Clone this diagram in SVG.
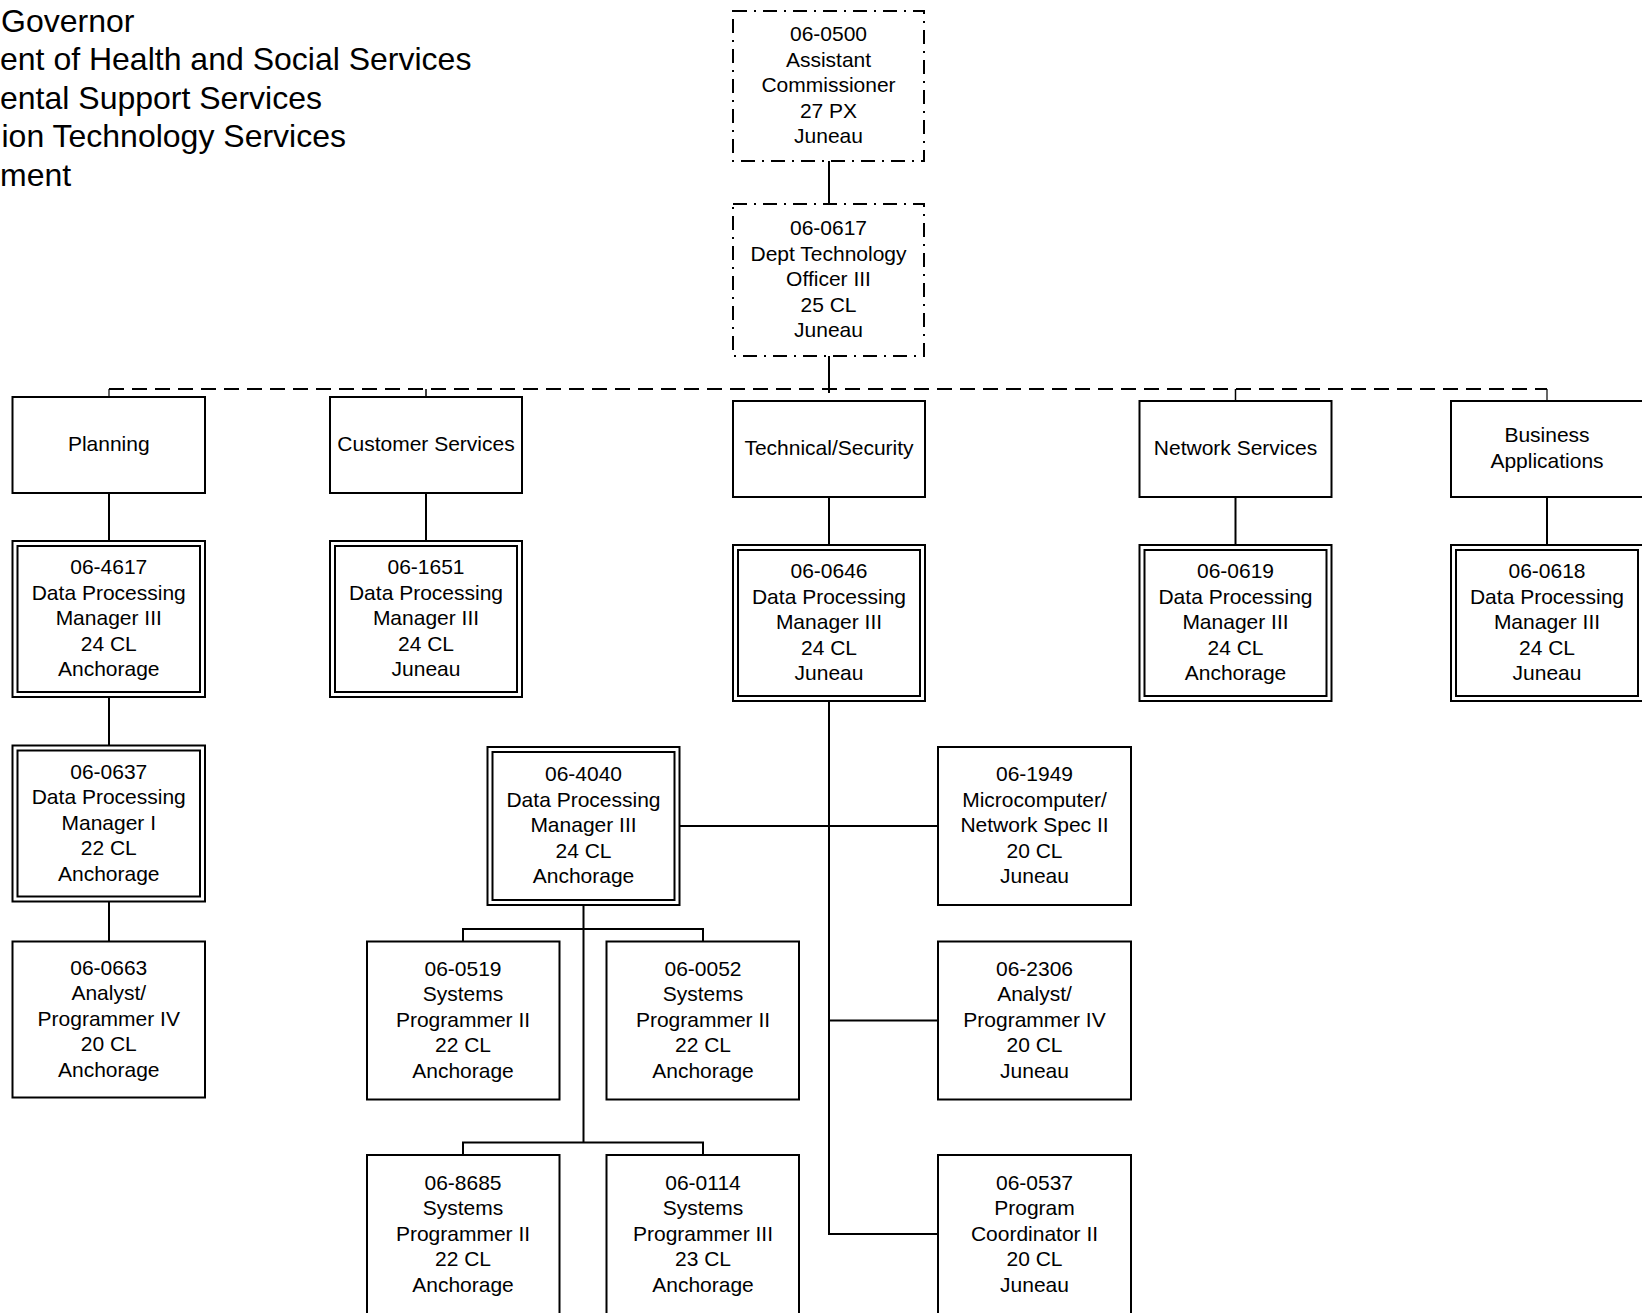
<svg xmlns="http://www.w3.org/2000/svg" width="1642" height="1313" viewBox="0 0 1642 1313">
<style>
.bg{fill:#fff}
.box{fill:#fff;stroke:#000;stroke-width:2}
.dd{stroke-dasharray:14 7 2 7}
.c{fill:none;stroke:#000;stroke-width:2}
.dash{stroke-dasharray:15 8}
.t{font-family:"Liberation Sans",Arial,sans-serif;font-size:21px;text-anchor:middle;fill:#000}
.h{font-family:"Liberation Sans",Arial,sans-serif;font-size:32px;fill:#000}
</style>
<rect class="bg" x="0" y="0" width="1642" height="1313"/>

<g id="header">
<text class="h" x="1" y="32">Governor</text>
<text class="h" x="0" y="70.4">ent of Health and Social Services</text>
<text class="h" x="0" y="108.8">ental Support Services</text>
<text class="h" x="1.5" y="147.2">ion Technology Services</text>
<text class="h" x="0" y="185.6">ment</text>
</g>

<g id="connectors">
<line class="c" x1="829" y1="161" x2="829" y2="204"/>
<line class="c" x1="829" y1="356" x2="829" y2="393"/>
<line class="c dash" x1="109" y1="389" x2="1547" y2="389"/>
<line class="c" x1="109" y1="389" x2="109" y2="397" style="stroke-width:1.2"/>
<line class="c" x1="426" y1="389" x2="426" y2="397" style="stroke-width:1.5"/>
<line class="c" x1="1235.5" y1="389" x2="1235.5" y2="401" style="stroke-width:1.5"/>
<line class="c" x1="1547" y1="389" x2="1547" y2="401" style="stroke-width:1.2"/>
<line class="c" x1="109" y1="493" x2="109" y2="541"/>
<line class="c" x1="426" y1="493" x2="426" y2="541"/>
<line class="c" x1="829" y1="497" x2="829" y2="545"/>
<line class="c" x1="1235.5" y1="497" x2="1235.5" y2="545"/>
<line class="c" x1="1547" y1="497" x2="1547" y2="545"/>
<line class="c" x1="109" y1="697" x2="109" y2="745.5"/>
<line class="c" x1="109" y1="901.5" x2="109" y2="941.5"/>
<polyline class="c" points="829,701 829,1234 938,1234"/>
<line class="c" x1="679.5" y1="826" x2="938" y2="826"/>
<line class="c" x1="829" y1="1020.5" x2="938" y2="1020.5"/>
<line class="c" x1="583.5" y1="905" x2="583.5" y2="1142.5"/>
<polyline class="c" points="463,941.5 463,929 703,929 703,941.5"/>
<polyline class="c" points="463,1155 463,1142.5 703,1142.5 703,1155"/>
</g>

<g id="n0500">
<rect class="box dd" x="733" y="11" width="191" height="150"/>
<text class="t"><tspan x="828.5" y="41">06-0500</tspan><tspan x="828.5" y="66.5">Assistant</tspan><tspan x="828.5" y="92">Commissioner</tspan><tspan x="828.5" y="117.5">27 PX</tspan><tspan x="828.5" y="143">Juneau</tspan></text>
</g>
<g id="n0617">
<rect class="box dd" x="733" y="204" width="191" height="152"/>
<text class="t"><tspan x="828.5" y="235">06-0617</tspan><tspan x="828.5" y="260.5">Dept Technology</tspan><tspan x="828.5" y="286">Officer III</tspan><tspan x="828.5" y="311.5">25 CL</tspan><tspan x="828.5" y="337">Juneau</tspan></text>
</g>

<g id="planning">
<rect class="box" x="12.5" y="397" width="192.5" height="96"/>
<text class="t" x="108.75" y="451">Planning</text>
</g>
<g id="customer">
<rect class="box" x="330" y="397" width="192" height="96"/>
<text class="t" x="426" y="451">Customer Services</text>
</g>
<g id="technical">
<rect class="box" x="733" y="401" width="192" height="96"/>
<text class="t" x="829" y="455">Technical/Security</text>
</g>
<g id="network">
<rect class="box" x="1139.5" y="401" width="192" height="96"/>
<text class="t" x="1235.5" y="455">Network Services</text>
</g>
<g id="business">
<rect class="box" x="1451" y="401" width="192" height="96"/>
<text class="t"><tspan x="1547" y="442.25">Business</tspan><tspan x="1547" y="467.75">Applications</tspan></text>
</g>

<g id="n4617">
<rect class="box" x="12.5" y="541" width="192.5" height="156"/>
<rect class="box" x="17.5" y="546" width="182.5" height="146"/>
<text class="t"><tspan x="108.75" y="574">06-4617</tspan><tspan x="108.75" y="599.5">Data Processing</tspan><tspan x="108.75" y="625">Manager III</tspan><tspan x="108.75" y="650.5">24 CL</tspan><tspan x="108.75" y="676">Anchorage</tspan></text>
</g>
<g id="n1651">
<rect class="box" x="330" y="541" width="192" height="156"/>
<rect class="box" x="335" y="546" width="182" height="146"/>
<text class="t"><tspan x="426" y="574">06-1651</tspan><tspan x="426" y="599.5">Data Processing</tspan><tspan x="426" y="625">Manager III</tspan><tspan x="426" y="650.5">24 CL</tspan><tspan x="426" y="676">Juneau</tspan></text>
</g>
<g id="n0646">
<rect class="box" x="733" y="545" width="192" height="156"/>
<rect class="box" x="738" y="550" width="182" height="146"/>
<text class="t"><tspan x="829" y="578">06-0646</tspan><tspan x="829" y="603.5">Data Processing</tspan><tspan x="829" y="629">Manager III</tspan><tspan x="829" y="654.5">24 CL</tspan><tspan x="829" y="680">Juneau</tspan></text>
</g>
<g id="n0619">
<rect class="box" x="1139.5" y="545" width="192" height="156"/>
<rect class="box" x="1144.5" y="550" width="182" height="146"/>
<text class="t"><tspan x="1235.5" y="578">06-0619</tspan><tspan x="1235.5" y="603.5">Data Processing</tspan><tspan x="1235.5" y="629">Manager III</tspan><tspan x="1235.5" y="654.5">24 CL</tspan><tspan x="1235.5" y="680">Anchorage</tspan></text>
</g>
<g id="n0618">
<rect class="box" x="1451" y="545" width="192" height="156"/>
<rect class="box" x="1456" y="550" width="182" height="146"/>
<text class="t"><tspan x="1547" y="578">06-0618</tspan><tspan x="1547" y="603.5">Data Processing</tspan><tspan x="1547" y="629">Manager III</tspan><tspan x="1547" y="654.5">24 CL</tspan><tspan x="1547" y="680">Juneau</tspan></text>
</g>

<g id="n0637">
<rect class="box" x="12.5" y="745.5" width="192.5" height="156"/>
<rect class="box" x="17.5" y="750.5" width="182.5" height="146"/>
<text class="t"><tspan x="108.75" y="778.5">06-0637</tspan><tspan x="108.75" y="804">Data Processing</tspan><tspan x="108.75" y="829.5">Manager I</tspan><tspan x="108.75" y="855">22 CL</tspan><tspan x="108.75" y="880.5">Anchorage</tspan></text>
</g>
<g id="n4040">
<rect class="box" x="487.5" y="747" width="192" height="158"/>
<rect class="box" x="492.5" y="752" width="182" height="148"/>
<text class="t"><tspan x="583.5" y="781">06-4040</tspan><tspan x="583.5" y="806.5">Data Processing</tspan><tspan x="583.5" y="832">Manager III</tspan><tspan x="583.5" y="857.5">24 CL</tspan><tspan x="583.5" y="883">Anchorage</tspan></text>
</g>
<g id="n1949">
<rect class="box" x="938" y="747" width="193" height="158"/>
<text class="t"><tspan x="1034.5" y="781">06-1949</tspan><tspan x="1034.5" y="806.5">Microcomputer/</tspan><tspan x="1034.5" y="832">Network Spec II</tspan><tspan x="1034.5" y="857.5">20 CL</tspan><tspan x="1034.5" y="883">Juneau</tspan></text>
</g>

<g id="n0663">
<rect class="box" x="12.5" y="941.5" width="192.5" height="156"/>
<text class="t"><tspan x="108.75" y="974.5">06-0663</tspan><tspan x="108.75" y="1000">Analyst/</tspan><tspan x="108.75" y="1025.5">Programmer IV</tspan><tspan x="108.75" y="1051">20 CL</tspan><tspan x="108.75" y="1076.5">Anchorage</tspan></text>
</g>
<g id="n0519">
<rect class="box" x="367" y="941.5" width="192.5" height="158"/>
<text class="t"><tspan x="463" y="975.5">06-0519</tspan><tspan x="463" y="1001">Systems</tspan><tspan x="463" y="1026.5">Programmer II</tspan><tspan x="463" y="1052">22 CL</tspan><tspan x="463" y="1077.5">Anchorage</tspan></text>
</g>
<g id="n0052">
<rect class="box" x="606.5" y="941.5" width="192.5" height="158"/>
<text class="t"><tspan x="703" y="975.5">06-0052</tspan><tspan x="703" y="1001">Systems</tspan><tspan x="703" y="1026.5">Programmer II</tspan><tspan x="703" y="1052">22 CL</tspan><tspan x="703" y="1077.5">Anchorage</tspan></text>
</g>
<g id="n2306">
<rect class="box" x="938" y="941.5" width="193" height="158"/>
<text class="t"><tspan x="1034.5" y="975.5">06-2306</tspan><tspan x="1034.5" y="1001">Analyst/</tspan><tspan x="1034.5" y="1026.5">Programmer IV</tspan><tspan x="1034.5" y="1052">20 CL</tspan><tspan x="1034.5" y="1077.5">Juneau</tspan></text>
</g>

<g id="n8685">
<rect class="box" x="367" y="1155" width="192.5" height="162"/>
<text class="t"><tspan x="463" y="1189.5">06-8685</tspan><tspan x="463" y="1215">Systems</tspan><tspan x="463" y="1240.5">Programmer II</tspan><tspan x="463" y="1266">22 CL</tspan><tspan x="463" y="1291.5">Anchorage</tspan></text>
</g>
<g id="n0114">
<rect class="box" x="606.5" y="1155" width="192.5" height="162"/>
<text class="t"><tspan x="703" y="1189.5">06-0114</tspan><tspan x="703" y="1215">Systems</tspan><tspan x="703" y="1240.5">Programmer III</tspan><tspan x="703" y="1266">23 CL</tspan><tspan x="703" y="1291.5">Anchorage</tspan></text>
</g>
<g id="n0537">
<rect class="box" x="938" y="1155" width="193" height="162"/>
<text class="t"><tspan x="1034.5" y="1189.5">06-0537</tspan><tspan x="1034.5" y="1215">Program</tspan><tspan x="1034.5" y="1240.5">Coordinator II</tspan><tspan x="1034.5" y="1266">20 CL</tspan><tspan x="1034.5" y="1291.5">Juneau</tspan></text>
</g>
</svg>
